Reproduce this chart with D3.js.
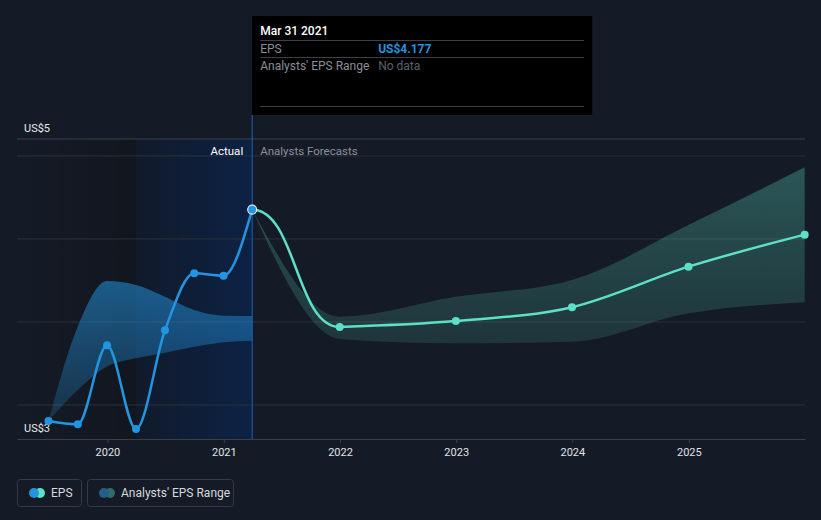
<!DOCTYPE html>
<html>
<head>
<meta charset="utf-8">
<script src="https://cdn.jsdelivr.net/npm/d3@7"></script>
<style>
  html, body { margin: 0; padding: 0; background: #151b26; }
  svg { display: block; font-family: Roboto, "Noto Sans", sans-serif; }
</style>
</head>
<body>
<svg id="chart" width="821" height="520"></svg>
<script>
// actual EPS, quarter ends
const eps_dates = ["2019-06-30", "2019-09-30", "2019-12-31", "2020-03-31", "2020-06-30", "2020-09-30", "2020-12-31", "2021-03-31"];
const eps_values = [2.904, 2.884, 3.360, 2.855, 3.450, 3.793, 3.779, 4.177];

// analysts' range in the past
const past_range_low = [2.904, 3.090, 3.231, 3.281, 3.315, 3.351, 3.378, 3.387];
const past_range_high = [2.904, 3.472, 3.747, 3.723, 3.652, 3.572, 3.538, 3.536];

// forecasts
const fc_dates = ["2021-03-31", "2021-12-31", "2022-12-31", "2023-12-31", "2024-12-31", "2025-12-31"];
const fc_values = [4.177, 3.470, 3.506, 3.589, 3.833, 4.026];
const fc_low = [4.177, 3.398, 3.372, 3.381, 3.552, 3.619];
const fc_high = [4.177, 3.532, 3.652, 3.753, 4.084, 4.432];

const grid_values = [3, 3.5, 4, 4.5];
const year_ticks = [2020, 2021, 2022, 2023, 2024, 2025];
const y_labels = ["US$5", "US$3"];

const tooltip_date = "Mar 31 2021";
const tooltip_rows = [["EPS", "US$4.177"], ["Analysts' EPS Range", "No data"]];

const parse = d3.timeParse("%Y-%m-%d");

function render() {
    const svg = d3.select("#chart");
    const left = 17, right = 805, top = 139, bottom = 439;

    const x = d3.scaleTime()
        .domain([new Date(2019, 2, 23), new Date(2026, 0, 1)])
        .range([left, right]);
    const y = d3.scaleLinear()
        .domain([2.795, 4.602])
        .range([bottom, top]);

    const defs = svg.append("defs");

    const past_grad = defs.append("linearGradient").attr("id", "past_bg");
    past_grad.append("stop").attr("offset", "0%").attr("stop-color", "#000").attr("stop-opacity", 0.0);
    past_grad.append("stop").attr("offset", "100%").attr("stop-color", "#000").attr("stop-opacity", 0.2);

    const year_grad = defs.append("linearGradient").attr("id", "year_bg");
    year_grad.append("stop").attr("offset", "0%").attr("stop-color", "#111a2b");
    year_grad.append("stop").attr("offset", "100%").attr("stop-color", "#0c2244");

    const blue_band = defs.append("linearGradient").attr("id", "blue_band")
        .attr("gradientUnits", "userSpaceOnUse")
        .attr("x1", 0).attr("x2", 0).attr("y1", 280).attr("y2", 420);
    blue_band.append("stop").attr("offset", "0%").attr("stop-color", "#2394df").attr("stop-opacity", 0.55);
    blue_band.append("stop").attr("offset", "100%").attr("stop-color", "#2394df").attr("stop-opacity", 0.2);

    const teal_band = defs.append("linearGradient").attr("id", "teal_band")
        .attr("gradientUnits", "userSpaceOnUse")
        .attr("x1", 0).attr("x2", 0).attr("y1", 165).attr("y2", 345);
    teal_band.append("stop").attr("offset", "0%").attr("stop-color", "#5ce0c6").attr("stop-opacity", 0.3);
    teal_band.append("stop").attr("offset", "100%").attr("stop-color", "#5ce0c6").attr("stop-opacity", 0.13);

    const now_x = x(parse("2021-03-31"));
    const year_ago_x = x(parse("2020-03-31"));

    // shaded past regions
    svg.append("rect")
        .attr("x", left).attr("y", top)
        .attr("width", year_ago_x - left).attr("height", bottom - top)
        .attr("fill", "url(#past_bg)");
    svg.append("rect")
        .attr("x", year_ago_x).attr("y", top)
        .attr("width", now_x - year_ago_x).attr("height", bottom - top)
        .attr("fill", "url(#year_bg)");

    // grid
    svg.selectAll(".grid")
        .data(grid_values)
        .join("line")
        .attr("x1", left).attr("x2", right)
        .attr("y1", d => y(d)).attr("y2", d => y(d))
        .attr("stroke", "#2b313c").attr("stroke-width", 1);
    svg.append("line")
        .attr("x1", left).attr("x2", right)
        .attr("y1", top).attr("y2", top)
        .attr("stroke", "#3a404a");

    // x axis
    const axis = svg.append("g")
        .attr("transform", `translate(0,${bottom})`)
        .call(d3.axisBottom(x)
            .tickValues(year_ticks.map(yr => new Date(yr, 0, 1)))
            .tickFormat(d3.timeFormat("%Y"))
            .tickSize(4)
            .tickSizeOuter(0));
    axis.select(".domain").attr("stroke", "#3a404a");
    axis.selectAll(".tick line").attr("stroke", "#3a404a");
    axis.selectAll(".tick text")
        .attr("fill", "#e0e3e8").attr("font-size", 11)
        .attr("font-family", "Roboto, sans-serif").attr("dy", "0.95em");

    // y labels
    svg.selectAll(".ylab")
        .data(y_labels)
        .join("text")
        .attr("x", 24)
        .attr("y", (d, i) => i === 0 ? 132 : 432)
        .attr("fill", "#e8eaee").attr("font-size", 11)
        .text(d => d);

    // past analysts' range
    const past_pts = eps_dates.map((d, i) => ({ date: parse(d), lo: past_range_low[i], hi: past_range_high[i] }));
    svg.append("path")
        .datum(past_pts)
        .attr("fill", "url(#blue_band)")
        .attr("d", d3.area()
            .x(d => x(d.date))
            .y0(d => y(d.lo))
            .y1(d => y(d.hi))
            .curve(d3.curveMonotoneX));

    // forecast range
    const fc_pts = fc_dates.map((d, i) => ({ date: parse(d), v: fc_values[i], lo: fc_low[i], hi: fc_high[i] }));
    svg.append("path")
        .datum(fc_pts)
        .attr("fill", "url(#teal_band)")
        .attr("d", d3.area()
            .x(d => x(d.date))
            .y0(d => y(d.lo))
            .y1(d => y(d.hi))
            .curve(d3.curveMonotoneX));

    // now line
    svg.append("line")
        .attr("x1", now_x).attr("x2", now_x)
        .attr("y1", 115).attr("y2", bottom)
        .attr("stroke", "#1f5fb8").attr("stroke-width", 1);

    svg.append("text")
        .attr("x", now_x - 9).attr("y", 155)
        .attr("text-anchor", "end")
        .attr("fill", "#ffffff").attr("font-size", 11.5)
        .text("Actual");
    svg.append("text")
        .attr("x", now_x + 8).attr("y", 155)
        .attr("fill", "#8b9099").attr("font-size", 11.5)
        .text("Analysts Forecasts");

    // forecast line: s-curve into the first estimate, smooth afterwards
    const fc_line = svg.append("g")
        .attr("fill", "none")
        .attr("stroke", "#5ce0c6").attr("stroke-width", 2.5);
    fc_line.append("path")
        .datum(fc_pts.slice(0, 2))
        .attr("d", d3.line().x(d => x(d.date)).y(d => y(d.v)).curve(d3.curveBumpX));
    fc_line.append("path")
        .datum(fc_pts.slice(1))
        .attr("d", d3.line().x(d => x(d.date)).y(d => y(d.v)).curve(d3.curveMonotoneX));
    svg.selectAll(".fcdot")
        .data(fc_pts.slice(1))
        .join("circle")
        .attr("cx", d => x(d.date)).attr("cy", d => y(d.v))
        .attr("r", 4).attr("fill", "#5ce0c6");

    // actual line
    const eps_pts = eps_dates.map((d, i) => ({ date: parse(d), v: eps_values[i] }));
    svg.append("path")
        .datum(eps_pts)
        .attr("fill", "none")
        .attr("stroke", "#2394df").attr("stroke-width", 2.5)
        .attr("d", d3.line().x(d => x(d.date)).y(d => y(d.v)).curve(d3.curveMonotoneX));
    svg.selectAll(".epsdot")
        .data(eps_pts)
        .join("circle")
        .attr("cx", d => x(d.date)).attr("cy", d => y(d.v))
        .attr("r", (d, i) => i === eps_pts.length - 1 ? 4.5 : 4)
        .attr("fill", "#2394df")
        .attr("stroke", (d, i) => i === eps_pts.length - 1 ? "#dfe8f5" : "none")
        .attr("stroke-width", 1.2);

    // tooltip
    const tip = svg.append("g").attr("transform", `translate(${now_x},16)`);
    tip.append("rect").attr("width", 340).attr("height", 99).attr("fill", "#000");
    tip.append("text").attr("x", 8).attr("y", 19)
        .attr("fill", "#fff").attr("font-size", 12).attr("font-weight", 500)
        .text(tooltip_date);
    [24, 41, 90].forEach(ly => {
        tip.append("line").attr("x1", 8).attr("x2", 332)
            .attr("y1", ly + 0.5).attr("y2", ly + 0.5)
            .attr("stroke", "#3c3f44");
    });
    tooltip_rows.forEach((row, i) => {
        tip.append("text").attr("x", 8).attr("y", 37 + i * 17)
            .attr("fill", "#8b8f96").attr("font-size", 12).text(row[0]);
        tip.append("text").attr("x", 126).attr("y", 37 + i * 17)
            .attr("fill", i === 0 ? "#2394df" : "#5d6068")
            .attr("font-size", 12).attr("font-weight", i === 0 ? 700 : 400)
            .text(row[1]);
    });

    // legend
    const legend_items = [
        { label: "EPS", c1: "#2394df", c2: "#5ce0c6", x: 17, w: 64 },
        { label: "Analysts' EPS Range", c1: "#245d8a", c2: "#2f6d68", x: 87, w: 146 }
    ];
    const lg = svg.selectAll(".legend")
        .data(legend_items)
        .join("g")
        .attr("transform", d => `translate(${d.x},479)`);
    lg.append("rect")
        .attr("x", 0.5).attr("y", 0.5)
        .attr("width", d => d.w).attr("height", 27).attr("rx", 3)
        .attr("fill", "none").attr("stroke", "#353b46");
    lg.append("circle").attr("cx", 23).attr("cy", 14).attr("r", 5).attr("fill", d => d.c2);
    lg.append("circle").attr("cx", 17).attr("cy", 14).attr("r", 5).attr("fill", d => d.c1);
    lg.append("text").attr("x", 34).attr("y", 18)
        .attr("fill", "#d5d8dd").attr("font-size", 12)
        .text(d => d.label);
}

render();
</script>
</body>
</html>
